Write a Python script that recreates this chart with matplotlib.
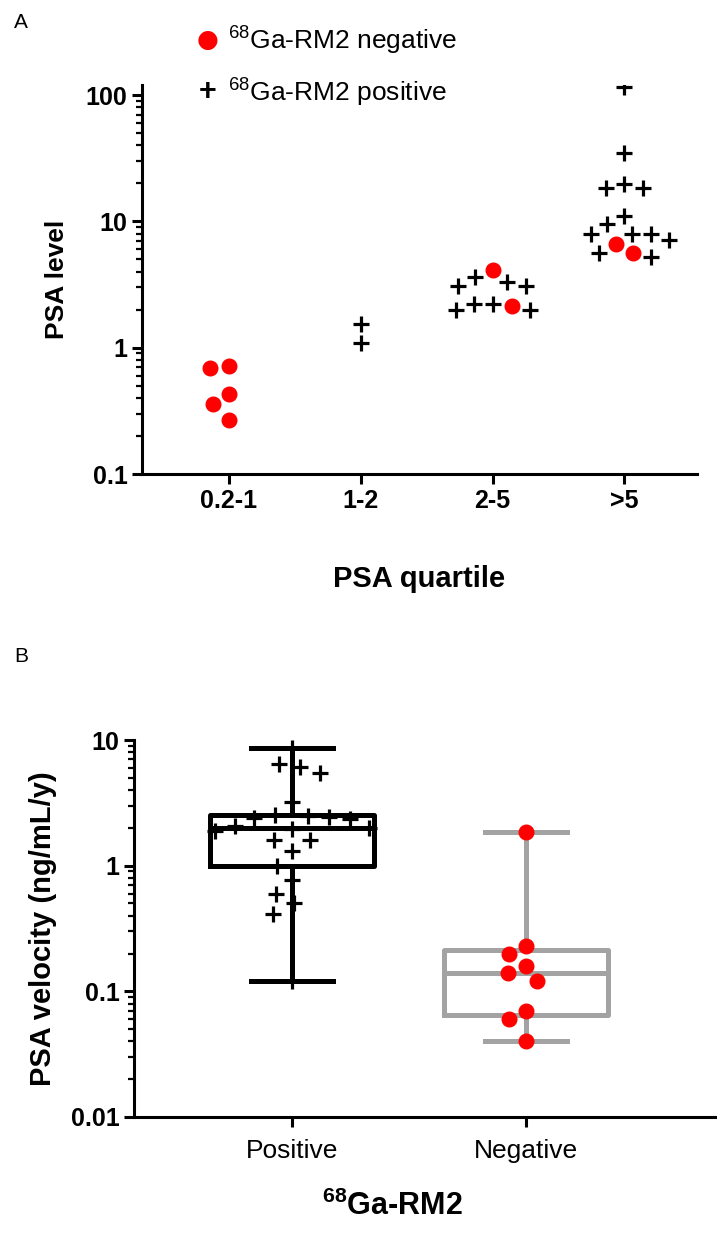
import numpy as np
import matplotlib
matplotlib.use("Agg")
import matplotlib.pyplot as plt
from matplotlib.ticker import FixedLocator, NullFormatter, LogLocator

plt.rcParams['font.family'] = ['Liberation Sans', 'DejaVu Sans']
plt.rcParams['mathtext.fontset'] = 'custom'
plt.rcParams['mathtext.rm'] = 'Liberation Sans'
plt.rcParams['mathtext.bf'] = 'Liberation Sans:bold'

# panel A: PSA level per quartile
quartiles = ['0.2-1', '1-2', '2-5', '>5']
level_neg = [[0.69, 0.71, 0.43, 0.36, 0.27], [], [4.1, 2.15], [5.6, 6.6]]
level_pos = [[], [1.08, 1.55],
             [3.6, 3.3, 3.1, 3.05, 2.2, 2.2, 1.97, 1.97],
             [115, 35, 19.7, 18.3, 18.3, 11, 9.6, 8.0, 8.0, 8.0, 7.1, 5.6, 5.2]]

# panel B: PSA velocity
groups = ['Positive', 'Negative']
vel_pos = [8.7, 6.4, 6.1, 5.5, 3.2, 2.55, 2.5, 2.45, 2.4, 2.35, 2.05, 2.0,
           1.95, 1.9, 1.6, 1.6, 1.3, 1.0, 0.77, 0.6, 0.5, 0.41, 0.12]
vel_neg = [1.85, 0.23, 0.2, 0.16, 0.14, 0.12, 0.07, 0.06, 0.04]

RED = '#ff0000'
GREY = '#a3a3a3'
W, H = 717, 1234


def rect(l, t, r, b):
    return [l / W, 1 - b / H, (r - l) / W, (b - t) / H]


def swarm(vals, d, ppd):
    # simple beeswarm in pixel space, returns x offsets in px
    ys = np.log10(vals) * ppd
    xs = np.zeros(len(vals))
    placed = []
    for i in np.argsort(-ys, kind='stable'):
        y = ys[i]
        iv = []
        for px, py in placed:
            dy = abs(py - y)
            if dy < d:
                w = np.sqrt(d * d - dy * dy)
                iv.append((px - w, px + w))
        cands = [0.0] + [a for a, b in iv] + [b for a, b in iv]
        cands.sort(key=lambda c: (abs(c), c))
        for c in cands:
            if all(not (a + 1e-6 < c < b - 1e-6) for a, b in iv):
                xs[i] = c
                break
        placed.append((xs[i], y))
    return xs


def style_axis(ax):
    for s in ['top', 'right']:
        ax.spines[s].set_visible(False)
    for s in ['left', 'bottom']:
        ax.spines[s].set_linewidth(2.2)
    ax.tick_params(axis='y', which='major', length=7, width=2.2, labelsize=18)
    ax.tick_params(axis='y', which='minor', length=4, width=1.6)
    ax.tick_params(axis='x', which='major', length=7, width=2.2)
    for lab in ax.get_yticklabels():
        lab.set_fontweight('bold')


fig = plt.figure(figsize=(W / 100, H / 100), dpi=100)

# ---------- panel A ----------
axA = fig.add_axes(rect(142, 85, 697, 474))
axA.set_yscale('log')
axA.set_ylim(0.1, 120)
axA.set_xlim(-0.66, 3.55)
ppd_A = (474 - 85) / np.log10(1200)
ppu_A = (697 - 142) / 4.21

for i in range(len(quartiles)):
    vals = level_neg[i] + level_pos[i]
    if not vals:
        continue
    off = swarm(np.array(vals), 19, ppd_A) / ppu_A
    n_neg = len(level_neg[i])
    if n_neg:
        axA.plot(i + off[:n_neg], level_neg[i], 'o', color=RED, ms=10.5,
                 mec=RED, zorder=3)
    if level_pos[i]:
        axA.plot(i + off[n_neg:], level_pos[i], '+', color='black', ms=12,
                 mew=2.3, zorder=3)

axA.yaxis.set_major_locator(FixedLocator([0.1, 1, 10, 100]))
axA.set_yticklabels(['0.1', '1', '10', '100'])
axA.yaxis.set_minor_locator(LogLocator(base=10, subs=np.arange(2, 10)))
axA.yaxis.set_minor_formatter(NullFormatter())
axA.set_xticks(range(len(quartiles)))
axA.set_xticklabels(quartiles, fontsize=18, fontweight='bold')
style_axis(axA)
axA.set_ylabel('PSA level', fontsize=19, fontweight='bold', labelpad=12)
axA.set_xlabel('PSA quartile', fontsize=21, fontweight='bold', labelpad=38)

# legend drawn above the plot
fig.text(208 / W, 1 - 40 / H, '●', color=RED, fontsize=18, ha='center',
         va='center', family='DejaVu Sans')
fig.text(208 / W, 1 - 92 / H, '+', color='black', fontsize=22, ha='center',
         va='center', fontweight='bold')
fig.text(228 / W, 1 - 40 / H, r'$^{68}$Ga-RM2 negative', fontsize=19,
         va='center')
fig.text(228 / W, 1 - 92 / H, r'$^{68}$Ga-RM2 positive', fontsize=19,
         va='center')
fig.text(14 / W, 1 - 22 / H, 'A', fontsize=15, va='center')

# ---------- panel B ----------
axB = fig.add_axes(rect(134, 740, 715, 1117))
axB.set_yscale('log')
axB.set_ylim(0.01, 10)
axB.set_xlim(-0.675, 1.808)
ppd_B = (1117 - 740) / 3
ppu_B = (715 - 134) / 2.483

for i, (vals, col) in enumerate([(vel_pos, 'black'), (vel_neg, GREY)]):
    v = np.array(vals)
    q1, med, q3 = np.percentile(v, [25, 50, 75], method='weibull')
    st = dict(med=med, q1=q1, q3=q3, whislo=v.min(), whishi=v.max(), fliers=[])
    lp = dict(color=col, linewidth=3.6)
    axB.bxp([st], positions=[i], widths=0.70, capwidths=0.35, showfliers=False,
            boxprops=lp, whiskerprops=lp, capprops=lp, medianprops=lp,
            zorder=2)

off = swarm(np.array(vel_pos), 21, ppd_B) / ppu_B
axB.plot(0 + off, vel_pos, '+', color='black', ms=12, mew=2.3, zorder=3)
off = swarm(np.array(vel_neg), 19, ppd_B) / ppu_B
axB.plot(1 + off, vel_neg, 'o', color=RED, mec=RED, ms=10.5, zorder=3)

axB.yaxis.set_major_locator(FixedLocator([0.01, 0.1, 1, 10]))
axB.set_yticklabels(['0.01', '0.1', '1', '10'])
axB.yaxis.set_minor_locator(LogLocator(base=10, subs=np.arange(2, 10)))
axB.yaxis.set_minor_formatter(NullFormatter())
axB.set_xticks([0, 1])
axB.set_xticklabels(groups, fontsize=19)
style_axis(axB)
axB.tick_params(axis='x', pad=9)
axB.set_ylabel('PSA velocity (ng/mL/y)', fontsize=21, fontweight='bold',
               labelpad=10)
axB.set_xlabel(r'$\mathbf{^{68}}$Ga-RM2', fontsize=22, fontweight='bold')
axB.xaxis.set_label_coords((392 - 134) / (715 - 134), -0.195)
fig.text(14 / W, 1 - 657 / H, 'B', fontsize=15, va='center')

fig.savefig('out.png', dpi=100)
